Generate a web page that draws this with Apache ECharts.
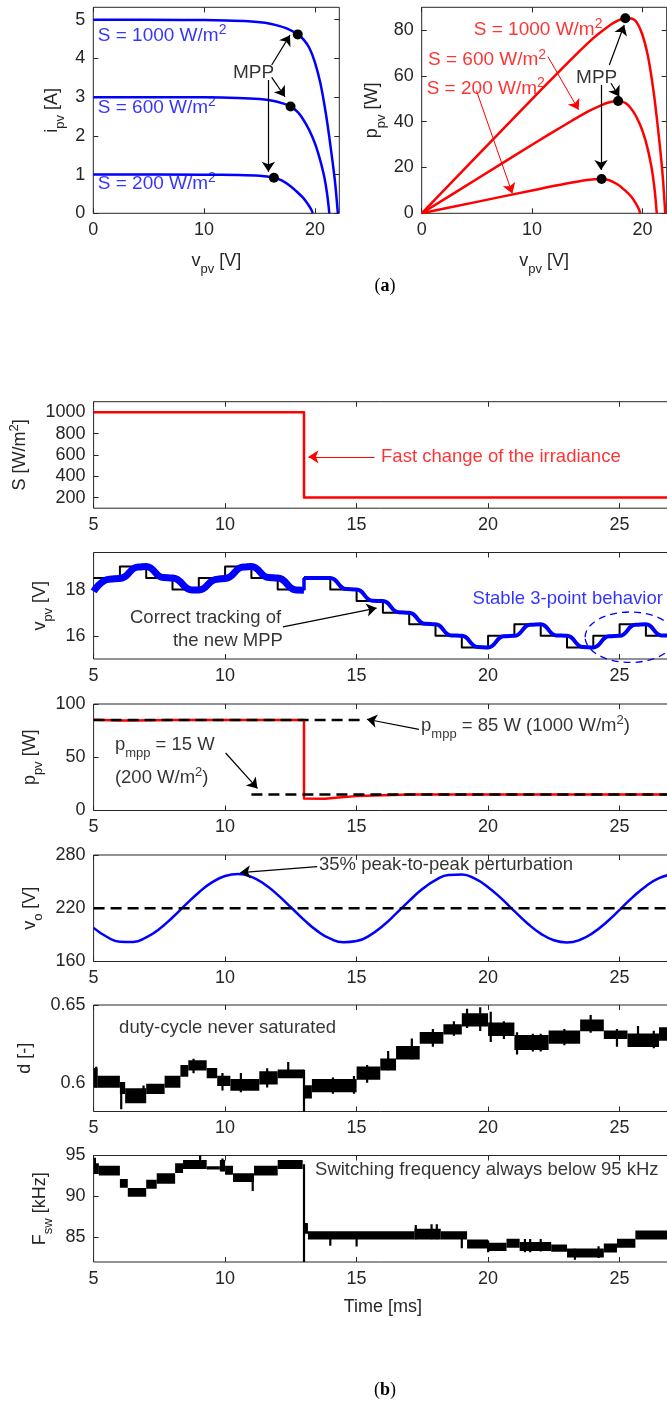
<!DOCTYPE html>
<html>
<head>
<meta charset="utf-8">
<script src="https://cdn.jsdelivr.net/npm/echarts@6.0.0/dist/echarts.min.js"></script>
<style>
html,body{margin:0;padding:0;background:#ffffff;}
#chart{width:667px;height:1405px;}
</style>
</head>
<body>
<div id="chart"></div>
<script>
// ================= (a) static PV characteristics =================
const ivS1000 = [[0,5.0],[8,4.995],[12,4.98],[14,4.96],[15.5,4.92],[16.5,4.86],[17.5,4.77],[18.45,4.62],[19.0,4.48],[19.5,4.27],[20.0,3.9],[20.5,3.35],[21.0,2.55],[21.4,1.75],[21.8,0.85],[22.07,0]];
const ivS600  = [[0,3.0],[10,2.995],[13,2.98],[15,2.95],[16.3,2.9],[17.1,2.84],[17.8,2.76],[18.5,2.6],[19.2,2.3],[19.8,1.95],[20.3,1.55],[20.8,1.0],[21.1,0.5],[21.3,0]];
const ivS200  = [[0,1.0],[10,0.998],[13,0.99],[15,0.97],[16.3,0.92],[17.0,0.85],[17.8,0.7],[18.4,0.55],[19.0,0.38],[19.4,0.22],[19.7,0.08],[19.8,0]];
const pvS1000 = [[0,0],[5,25],[10,49.9],[14,69.4],[15.5,76.3],[16.5,80.2],[17.5,83.5],[18.45,85.2],[19.0,85.1],[19.5,83.3],[20.0,78],[20.5,68.7],[21.0,53.6],[21.4,37.5],[21.8,18.5],[22.07,0]];
const pvS600  = [[0,0],[5,15],[10,29.95],[13,38.7],[15,44.3],[16.3,47.3],[17.1,48.6],[17.8,49.1],[18.5,48.1],[19.2,44.2],[19.8,38.6],[20.3,31.5],[20.8,20.8],[21.1,10.6],[21.3,0]];
const pvS200  = [[0,0],[5,5],[10,9.98],[13,12.9],[15,14.55],[16.3,15.0],[17.0,14.45],[17.8,12.5],[18.4,10.1],[19.0,7.2],[19.4,4.3],[19.7,1.6],[19.8,0]];
const mppVolt = [18.45, 17.8, 16.3];
const mppCurr = [4.62, 2.76, 0.92];
const mppPow  = [85.2, 49.1, 15.0];
const irrLabels = ['S = 1000 W/m{sup|2}', 'S = 600 W/m{sup|2}', 'S = 200 W/m{sup|2}'];
const vTicksA = [0, 10, 20];
const iTicksA = [0, 1, 2, 3, 4, 5];
const pTicksA = [0, 20, 40, 60, 80];

// ================= (b) dynamic response =================
const timeTicks = [5, 10, 15, 20, 25];
const irrTicks = [200, 400, 600, 800, 1000];
const vpvTicks = [16, 18];
const ppvTicks = [0, 50, 100];
const voTicks = [160, 220, 280];
const dTicks = [0.6, 0.65];
const fswTicks = [85, 90, 95];

const irrTime = [5, 13, 13, 27];
const irrVal  = [1000, 1000, 200, 200];

const vrefTime = [5,6,7,8,9,10,11,12,13,14,15,16,17,18,19,20,21,22,23,24,25,26,27];
const vrefVal  = [18.5,19,18.5,18,18.5,19,18.5,18,18.5,18,17.5,17,16.5,16,15.5,16,16.5,16,15.5,16,16.5,16,16];

const vpvTime1 = [5.0,5.6,6.0,6.7,7.0,7.65,8.0,8.75,9.0,9.7,10.0,10.7,11.0,11.65,12.0,12.7,13.0];
const vpvVal1  = [17.92,18.45,18.48,18.97,19.0,18.52,18.5,17.98,17.98,18.45,18.48,18.97,19.0,18.52,18.5,17.98,17.97];
const vpvJumpTime = [13.0, 13.0];
const vpvJumpVal  = [17.97, 18.5];
const vpvTime2 = [13.0,14.0,14.6,15.0,15.6,16.0,16.6,17.0,17.6,18.0,18.6,19.0,19.6,20.0,20.6,21.0,21.6,22.0,22.6,23.0,23.6,24.0,24.6,25.0,25.6,26.0,26.6,27.0];
const vpvVal2  = [18.5,18.5,18.02,18.0,17.52,17.5,17.02,17.0,16.52,16.5,16.02,16.0,15.52,15.5,15.98,16.0,16.48,16.5,16.02,16.0,15.52,15.5,15.98,16.0,16.48,16.5,16.02,16.0];

const ppvTime = [5, 6, 6.5, 8, 13, 13, 13.8, 14.3, 15, 16, 17, 27];
const ppvVal  = [85.2, 84.6, 84.6, 84.9, 84.9, 11.2, 11.0, 12.2, 13.5, 14.4, 15.0, 15.0];
const pmpp1000Time = [5, 15.3];
const pmpp1000Val  = [85, 85];
const pmpp200Time  = [11, 27];
const pmpp200Val   = [15, 15];

const voTime = [5,5.5,6,6.5,7,7.5,8,8.5,9,9.5,10,10.5,11,11.5,12,12.5,13,13.5,14,14.5,15,15.5,16,16.5,17,17.5,18,18.5,19,19.5,20,20.5,21,21.5,22,22.5,23,23.5,24,24.5,25,25.5,26,26.5,27];
const voVal  = [197.9,187.9,182.3,182.1,187.1,196.7,209.6,224.0,237.8,249.1,256.3,258.5,255.3,247.1,235.1,221.1,206.9,194.5,185.7,181.7,183.0,189.5,200.3,213.9,228.3,241.6,251.7,257.6,258.1,253.3,243.8,231.1,216.7,202.9,191.4,183.9,181.5,184.5,192.5,204.3,218.2,232.5,244.9,253.9,258.3];
const voRefTime = [5, 27];
const voRefVal  = [220, 220];

// duty-cycle band: [tStart, tEnd, low, high]
const dSegments = [
 [5.0,5.15,0.598,0.609],[5.15,6.0,0.598,0.604],[6.0,6.2,0.594,0.600],[6.2,7.0,0.588,0.596],
 [7.0,7.7,0.594,0.599],[7.7,8.3,0.598,0.604],[8.3,8.6,0.605,0.611],[8.6,9.3,0.609,0.614],
 [9.3,9.7,0.604,0.609],[9.7,10.2,0.599,0.604],[10.2,11.3,0.596,0.602],[11.3,12.0,0.600,0.607],
 [12.0,13.0,0.604,0.608],[13.0,13.3,0.591,0.598],[13.3,15.0,0.595,0.602],[15.0,15.9,0.603,0.610],
 [15.9,16.5,0.609,0.615],[16.5,17.4,0.616,0.623],[17.4,18.3,0.626,0.632],[18.3,19.0,0.632,0.637],
 [19.0,20.0,0.637,0.644],[20.0,21.0,0.631,0.638],[21.0,22.3,0.622,0.630],[22.3,23.5,0.626,0.633],
 [23.5,24.4,0.634,0.640],[24.4,25.3,0.629,0.633],[25.3,26.5,0.624,0.631],[26.5,27.0,0.628,0.635]
];
// duty-cycle spikes: [t, low, high]
const dSpikes = [
 [5.1,0.598,0.610],[6.05,0.584,0.600],[6.9,0.588,0.598],[8.8,0.607,0.615],[9.9,0.596,0.606],
 [10.6,0.595,0.606],[11.6,0.598,0.609],[12.4,0.605,0.613],[13.0,0.582,0.608],[14.1,0.594,0.603],
 [14.9,0.594,0.604],[15.4,0.601,0.611],[16.2,0.609,0.620],[17.1,0.616,0.628],[17.9,0.624,0.634],
 [18.7,0.631,0.639],[19.2,0.636,0.647],[19.7,0.634,0.648],[20.1,0.627,0.645],[20.6,0.629,0.639],
 [21.1,0.619,0.632],[21.7,0.621,0.631],[22.0,0.621,0.631],[22.9,0.625,0.634],[23.9,0.633,0.643],
 [24.9,0.624,0.634],[25.7,0.624,0.636],[26.3,0.623,0.633]
];
// switching frequency band: [tStart, tEnd, low, high]
const fswSegments = [
 [5.0,5.2,92.9,93.9],[5.2,6.0,92.7,93.6],[6.0,6.3,91.2,92.0],[6.3,7.0,90.1,90.9],
 [7.0,7.4,91.1,91.9],[7.4,8.1,91.7,92.7],[8.1,8.4,93.0,93.9],[8.4,9.3,93.5,94.3],
 [9.3,9.8,93.45,93.55],[9.8,10.0,93.2,94.3],[10.0,10.3,92.8,93.6],[10.3,11.1,91.9,92.7],
 [11.1,12.0,92.7,93.6],[12.0,12.95,93.5,94.3],[13.0,13.15,85.6,86.6],[13.15,17.2,84.9,85.6],
 [17.2,18.2,84.9,85.9],[18.2,19.2,84.9,85.6],[19.2,20.0,83.8,84.6],[20.0,20.7,83.5,84.2],
 [20.7,21.2,83.9,84.7],[21.2,22.4,83.5,84.3],[22.4,23.0,83.4,84.0],[23.0,24.4,82.7,83.5],
 [24.4,24.9,83.3,84.1],[24.9,25.6,83.9,84.7],[25.6,27.0,84.9,85.7]
];
const fswSpikes = [
 [5.05,92.9,94.6],[9.05,93.5,95.0],[9.9,93.2,94.5],[11.05,90.8,92.5],[13.0,82.0,93.8],
 [14.0,84.1,85.4],[15.0,84.0,85.4],[17.25,84.9,86.4],[17.85,84.9,86.5],[18.05,84.9,86.5],
 [19.0,83.8,85.2],[20.0,83.3,84.5],[21.4,83.3,84.7],[21.6,83.3,84.7],[22.0,83.4,84.7],
 [23.3,82.4,83.5],[24.2,82.6,83.8]
];

// ================= annotations (data coordinates) =================
const ivLabelPos = [[0.4,4.59],[0.4,2.73],[0.4,0.775]];
const ivMppText = [[12.6,3.64,'MPP']];
const ivArrows = [[16.1,3.83,17.75,4.6],[16.1,3.51,17.3,3.01],[15.8,3.44,15.8,1.07]];
const pvLabelPos = [[4.72,80.4],[0.57,67.0],[0.45,54.6]];
const pvMppText = [[13.99,59.2,'MPP']];
const pvArrowsBlack = [[17.0,64.8,18.35,82.3],[17.15,56.8,17.9,51.0],[16.25,56.1,16.25,18.9]];
const pvArrowsRed = [[11.43,68.5,14.22,45.2],[4.96,53.6,8.21,8.7]];
const irrText = [[15.93,582,'Fast change of the irradiance']];
const irrArrow = [[15.68,582,13.17,582]];
const vpvTextBlack = [[12.13,16.76,'Correct tracking of','right'],[12.2,15.77,'the new MPP','right']];
const vpvArrow = [[12.2,16.39,15.76,17.2]];
const vpvTextBlue = [[19.41,17.59,'Stable 3-point behavior']];
const ellipseCenter = [25.4, 15.94];
const ellipseRadii = [1.71, 1.09];
const ppvText = [[17.45,79,'p{sub|mpp} = 85 W (1000 W/m{sup|2})'],[5.81,61.2,'p{sub|mpp} = 15 W'],[5.81,30.2,'(200 W/m{sup|2})']];
const ppvArrows = [[17.37,76.2,15.39,85.7],[10.02,54,11.23,20.7]];
const voText = [[13.57,268.6,'35% peak-to-peak perturbation']];
const voArrow = [[13.5,267,10.58,260.2]];
const dText = [[5.97,0.6352,'duty-cycle never saturated']];
const fswText = [[13.42,93.2,'Switching frequency always below 95 kHz']];

// ================= builders =================
const FONT = 'Liberation Sans';
const AXC = '#262626';
const BLUE = '#0000ff', RED = '#ff0000', BLACK = '#000000';

function zip(xs, ys) { return xs.map((x, i) => [x, ys[i]]); }
function rich(color, size) {
  const s = Math.round(size * 0.72);
  return {
    sub: {fontSize: s, fontFamily: FONT, color: color, verticalAlign: 'bottom'},
    sup: {fontSize: s, fontFamily: FONT, color: color, verticalAlign: 'top', padding: [3, 0, 0, 0]}
  };
}
function plainNum(v) { return String(v); }

const grids = [], xAxes = [], yAxes = [], series = [];
function tickStyle(values) {
  return {show: true, inside: true, length: 5, customValues: values, lineStyle: {color: AXC, width: 1}};
}
function addPanel(p) {
  const k = grids.length;
  grids.push({left: p.left, top: p.top, width: p.width, height: p.height, show: true,
    containLabel: false, outerBoundsMode: 'none',
    borderColor: AXC, borderWidth: 1, backgroundColor: 'rgba(0,0,0,0)'});
  const nameStyle = {color: AXC, fontSize: 18, fontFamily: FONT, lineHeight: 30, rich: rich(AXC, 18)};
  const lab = {color: AXC, fontSize: 18, fontFamily: FONT, margin: 8, formatter: plainNum};
  xAxes.push({type: 'value', gridIndex: k, position: 'bottom', min: p.x.min, max: p.x.max,
    splitLine: {show: false}, axisLine: {show: false, onZero: false}, axisTick: tickStyle(p.x.ticks),
    axisLabel: Object.assign({customValues: p.x.ticks}, lab),
    name: p.x.name || '', nameLocation: 'middle', nameGap: p.x.gap || 30, nameTextStyle: nameStyle});
  xAxes.push({type: 'value', gridIndex: k, position: 'top', min: p.x.min, max: p.x.max,
    splitLine: {show: false}, axisLine: {show: false, onZero: false}, axisTick: tickStyle(p.x.ticks),
    axisLabel: {show: false}});
  yAxes.push({type: 'value', gridIndex: k, position: 'left', min: p.y.min, max: p.y.max,
    splitLine: {show: false}, axisLine: {show: false, onZero: false}, axisTick: tickStyle(p.y.ticks),
    axisLabel: Object.assign({customValues: p.y.ticks}, lab),
    name: p.y.name || '', nameLocation: 'middle', nameGap: p.y.gap || 30, nameTextStyle: nameStyle});
  yAxes.push({type: 'value', gridIndex: k, position: 'right', min: p.y.min, max: p.y.max,
    splitLine: {show: false}, axisLine: {show: false, onZero: false}, axisTick: tickStyle(p.y.ticks),
    axisLabel: {show: false}});
}
function addLine(k, data, color, width, extra, dash) {
  series.push(Object.assign({type: 'line', xAxisIndex: 2 * k, yAxisIndex: 2 * k, data: data,
    symbol: 'none', showSymbol: false, silent: true, z: 3,
    lineStyle: {color: color, width: width, type: dash || 'solid', cap: 'butt', join: 'round'},
    itemStyle: {color: color}}, extra || {}));
}
function addTexts(k, items, color, size) {
  series.push({type: 'scatter', xAxisIndex: 2 * k, yAxisIndex: 2 * k, symbolSize: 1, silent: true, z: 8,
    itemStyle: {color: 'rgba(0,0,0,0)'},
    label: {show: true, position: 'inside', formatter: p => p.data.txt, color: color,
      fontSize: size, fontFamily: FONT, lineHeight: 30, rich: rich(color, size)},
    data: items.map(it => ({value: [it[0], it[1]], txt: it[2],
      label: {align: it[3] || 'left', verticalAlign: 'middle'}}))});
}
function addArrows(k, list, color, width, size) {
  series.push({type: 'lines', coordinateSystem: 'cartesian2d', xAxisIndex: 2 * k, yAxisIndex: 2 * k,
    silent: true, z: 7, symbol: ['none', 'arrow'], symbolSize: size,
    lineStyle: {color: color, width: width, opacity: 1, curveness: 0},
    data: list.map(a => ({coords: [[a[0], a[1]], [a[2], a[3]]]}))});
}
function addMarkers(k, data) {
  series.push({type: 'scatter', xAxisIndex: 2 * k, yAxisIndex: 2 * k, symbol: 'circle', symbolSize: 10,
    silent: true, z: 6, itemStyle: {color: BLACK, opacity: 1}, data: data});
}
function addBands(k, segs, spikes) {
  series.push({type: 'custom', xAxisIndex: 2 * k, yAxisIndex: 2 * k, silent: true, clip: true, z: 3,
    encode: {x: [0, 1], y: [2, 3]}, data: segs,
    renderItem: function (params, api) {
      const a = api.coord([api.value(0), api.value(3)]);
      const b = api.coord([api.value(1), api.value(2)]);
      return {type: 'rect', shape: {x: a[0], y: a[1] - 1.2, width: b[0] - a[0], height: b[1] - a[1] + 2.4},
        style: {fill: BLACK}};
    }});
  series.push({type: 'custom', xAxisIndex: 2 * k, yAxisIndex: 2 * k, silent: true, clip: true, z: 3,
    encode: {x: 0, y: [1, 2]}, data: spikes,
    renderItem: function (params, api) {
      const a = api.coord([api.value(0), api.value(2)]);
      const b = api.coord([api.value(0), api.value(1)]);
      return {type: 'rect', shape: {x: a[0] - 1.1, y: a[1] - 1, width: 2.2, height: b[1] - a[1] + 2},
        style: {fill: BLACK}};
    }});
}

// ---------- panels ----------
const BL = 93.6, BW = 578.6, BH = 106.5;
addPanel({left: 93.3, top: 7.3, width: 246, height: 206,
  x: {min: 0, max: 22.2, ticks: vTicksA, name: 'v{sub|pv} [V]', gap: 32.5},
  y: {min: 0, max: 5.32, ticks: iTicksA, name: 'i{sub|pv} [A]', gap: 26.6}});
addPanel({left: 421.7, top: 7.3, width: 245, height: 206,
  x: {min: 0, max: 22.2, ticks: vTicksA, name: 'v{sub|pv} [V]', gap: 32.5},
  y: {min: 0, max: 90, ticks: pTicksA, name: 'p{sub|pv} [W]', gap: 34.2}});
addPanel({left: BL, top: 401.7, width: BW, height: BH,
  x: {min: 5, max: 27, ticks: timeTicks}, y: {min: 100, max: 1100, ticks: irrTicks, name: 'S [W/m{sup|2}]', gap: 49.6}});
addPanel({left: BL, top: 552.5, width: BW, height: BH,
  x: {min: 5, max: 27, ticks: timeTicks}, y: {min: 15, max: 19.6, ticks: vpvTicks, name: 'v{sub|pv} [V]', gap: 35.6}});
addPanel({left: BL, top: 704, width: BW, height: BH,
  x: {min: 5, max: 27, ticks: timeTicks}, y: {min: 0, max: 100, ticks: ppvTicks, name: 'p{sub|pv} [W]', gap: 44.6}});
addPanel({left: BL, top: 855, width: BW, height: BH,
  x: {min: 5, max: 27, ticks: timeTicks}, y: {min: 160, max: 280, ticks: voTicks, name: 'v{sub|o} [V]', gap: 45.6}});
addPanel({left: BL, top: 1005, width: BW, height: BH,
  x: {min: 5, max: 27, ticks: timeTicks}, y: {min: 0.582, max: 0.65, ticks: dTicks, name: 'd [-]', gap: 43.6}});
addPanel({left: BL, top: 1155.5, width: BW, height: BH,
  x: {min: 5, max: 27, ticks: timeTicks, name: 'Time [ms]', gap: 29.7},
  y: {min: 82, max: 95, ticks: fswTicks, name: 'F{sub|sw} [kHz]', gap: 35.2}});

// ---------- (a) I-V ----------
[ivS1000, ivS600, ivS200].forEach(c => addLine(0, c, BLUE, 2.5, {smooth: 0.3}));
addMarkers(0, zip(mppVolt, mppCurr));
addTexts(0, ivLabelPos.map((p, i) => [p[0], p[1], irrLabels[i]]), BLUE, 19);
addTexts(0, ivMppText, BLACK, 19);
addArrows(0, ivArrows, BLACK, 1.2, 10);
// ---------- (a) P-V ----------
[pvS1000, pvS600, pvS200].forEach(c => addLine(1, c, RED, 2.5, {smooth: 0.3}));
addMarkers(1, zip(mppVolt, mppPow));
addTexts(1, pvLabelPos.map((p, i) => [p[0], p[1], irrLabels[i]]), RED, 19);
addTexts(1, pvMppText, BLACK, 19);
addArrows(1, pvArrowsBlack, BLACK, 1.2, 10);
addArrows(1, pvArrowsRed, RED, 1, 10);
// ---------- S ----------
addLine(2, zip(irrTime, irrVal), RED, 2.5);
addTexts(2, irrText, RED, 18.5);
addArrows(2, irrArrow, RED, 1.2, 10);
// ---------- v_pv ----------
addLine(3, zip(vrefTime, vrefVal), BLACK, 2, {step: 'end'});
addLine(3, zip(vpvTime1, vpvVal1), BLUE, 7, {smooth: 0.5, smoothMonotone: 'x', z: 4});
addLine(3, zip(vpvJumpTime, vpvJumpVal), BLUE, 3.5, {z: 4});
addLine(3, zip(vpvTime2, vpvVal2), BLUE, 4, {smooth: 0.5, smoothMonotone: 'x', z: 4});
addTexts(3, vpvTextBlack, BLACK, 18.5);
addTexts(3, vpvTextBlue, BLUE, 18.5);
addArrows(3, vpvArrow, BLACK, 1.2, 10);
// ---------- p_pv ----------
addLine(4, zip(ppvTime, ppvVal), RED, 2.5);
addLine(4, zip(pmpp1000Time, pmpp1000Val), BLACK, 2.5, {z: 4}, [11, 6]);
addLine(4, zip(pmpp200Time, pmpp200Val), BLACK, 2.5, {z: 4}, [11, 6]);
addTexts(4, ppvText, BLACK, 18.5);
addArrows(4, ppvArrows, BLACK, 1.2, 10);
// ---------- v_o ----------
addLine(5, zip(voTime, voVal), BLUE, 2.5, {smooth: 0.5});
addLine(5, zip(voRefTime, voRefVal), BLACK, 2.5, {z: 4}, [11, 6]);
addTexts(5, voText, BLACK, 18.5);
addArrows(5, voArrow, BLACK, 1.2, 10);
// ---------- d ----------
addBands(6, dSegments, dSpikes);
addTexts(6, dText, BLACK, 18.5);
// ---------- F_sw ----------
addBands(7, fswSegments, fswSpikes);
addTexts(7, fswText, BLACK, 18.5);

const chart = echarts.init(document.getElementById('chart'), null, {renderer: 'canvas', width: 667, height: 1405});
chart.setOption({
  animation: false,
  backgroundColor: '#ffffff',
  textStyle: {fontFamily: FONT},
  grid: grids, xAxis: xAxes, yAxis: yAxes, series: series
});

const c0 = chart.convertToPixel({gridIndex: 3}, ellipseCenter);
const c1 = chart.convertToPixel({gridIndex: 3}, [ellipseCenter[0] + ellipseRadii[0], ellipseCenter[1] + ellipseRadii[1]]);
chart.setOption({
  graphic: [
    {type: 'ellipse', z: 20, silent: true,
     shape: {cx: c0[0], cy: c0[1], rx: Math.abs(c1[0] - c0[0]), ry: Math.abs(c1[1] - c0[1])},
     style: {fill: 'none', stroke: BLUE, lineWidth: 1.3, lineDash: [7, 5]}},
    {type: 'text', x: 385, y: 286, z: 20, silent: true,
     style: {text: '({b|a})', fill: BLACK, fontSize: 18, fontFamily: 'Liberation Serif', align: 'center', verticalAlign: 'middle',
       rich: {b: {fontWeight: 'bold', fontSize: 18, fontFamily: 'Liberation Serif', fill: BLACK}}}},
    {type: 'text', x: 385, y: 1390, z: 20, silent: true,
     style: {text: '({b|b})', fill: BLACK, fontSize: 18, fontFamily: 'Liberation Serif', align: 'center', verticalAlign: 'middle',
       rich: {b: {fontWeight: 'bold', fontSize: 18, fontFamily: 'Liberation Serif', fill: BLACK}}}}
  ]
});
</script>
</body>
</html>
